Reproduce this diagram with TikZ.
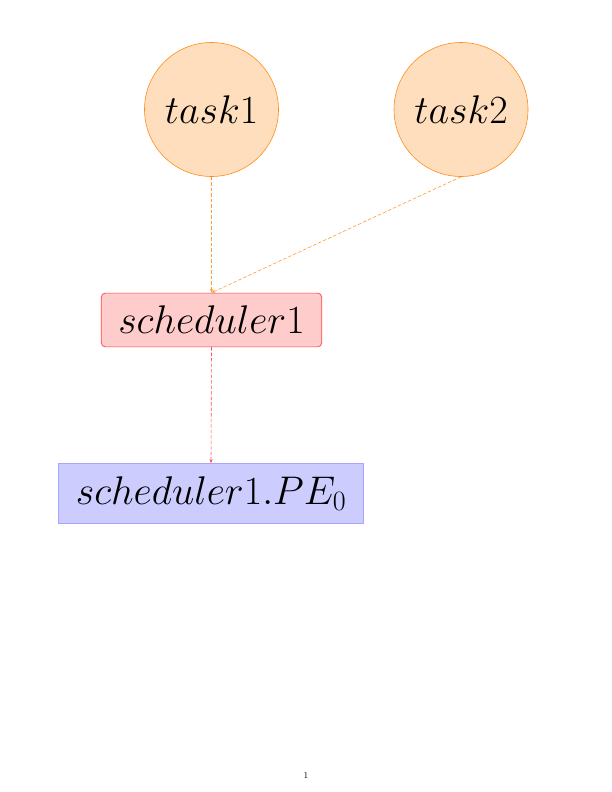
\RequirePackage{fix-cm}
\documentclass[tikz,border=0pt]{standalone}
\usetikzlibrary{arrows.meta}
\tikzset{
  big/.style={font=\fontsize{40}{48}\selectfont},
  task/.style={big, circle, draw=orange!90, fill=orange!26, line width=0.6pt, inner sep=0pt, minimum size=134pt},
  sched/.style={big, rectangle, rounded corners=4pt, draw=red!75, fill=red!20, line width=0.7pt, inner xsep=17pt, inner ysep=13pt},
  pe/.style={big, rectangle, draw=blue!35, fill=blue!20, line width=0.8pt, inner xsep=17pt, inner ysep=13pt},
  link/.style={dash pattern=on 3.5pt off 2pt, line width=0.6pt, -{Stealth[length=4pt,width=3pt]}},
}
\begin{document}
\begin{tikzpicture}[x=1pt,y=-1pt]
\useasboundingbox (0,0) rectangle (612,792);
\node[task] (t1) at (211.5,109.5) {$task1$};
\node[task] (t2) at (461,109.5) {$task2$};
\node[sched] (s1) at (211.5,320) {$scheduler1$};
\node[pe] (pe) at (211,493.5) {$scheduler1.PE_0$};
\node[font=\fontsize{9}{10}\selectfont] (pg) at (306,775) {1};
\draw[link, draw=orange!80] (t1.south) -- (s1.north);
\draw[link, draw=orange!80] (t2.south) -- (s1.north);
\draw[link, draw=red!70] (s1.south) -- (pe.north);
\end{tikzpicture}
\end{document}
